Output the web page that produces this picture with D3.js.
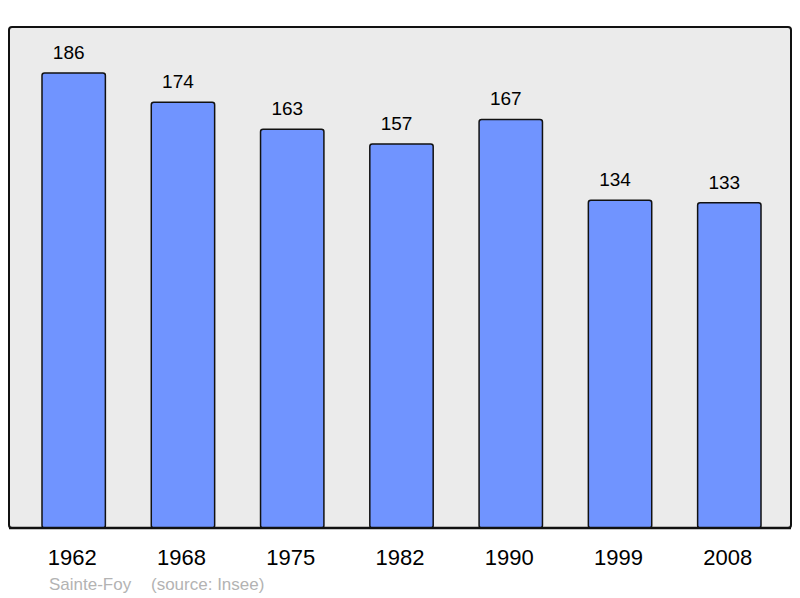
<!DOCTYPE html>
<html>
<head>
<meta charset="utf-8">
<script src="https://cdn.jsdelivr.net/npm/d3@7"></script>
<style>
body { margin: 0; background: #fff; }
text { font-family: "Liberation Sans", Arial, sans-serif; }
</style>
</head>
<body>
<div id="chart"></div>
<script>
// data
var years = ["1962", "1968", "1975", "1982", "1990", "1999", "2008"];
var population = [186, 174, 163, 157, 167, 134, 133];
var footnote = ["Sainte-Foy", "(source: Insee)"];

var width = 800, height = 598;

var svg = d3.select("#chart")
    .append("svg")
    .attr("width", width)
    .attr("height", height);

// background panel
svg.append("rect")
    .attr("x", 9)
    .attr("y", 27)
    .attr("width", 782)
    .attr("height", 501)
    .attr("rx", 3)
    .attr("fill", "#ebebeb")
    .attr("stroke", "#111")
    .attr("stroke-width", 2);

var x = d3.scaleBand()
    .domain(years)
    .range([42, 761])
    .paddingInner(0.42)
    .paddingOuter(0);

var y = d3.scaleLinear()
    .domain([0, 186])
    .range([528, 73]);

var rows = years.map(function(d, i) { return {year: d, value: population[i]}; });

// bars
svg.append("g")
    .selectAll("rect")
    .data(rows)
    .enter()
    .append("rect")
    .attr("x", function(d) { return x(d.year); })
    .attr("y", function(d) { return y(d.value); })
    .attr("width", x.bandwidth())
    .attr("height", function(d) { return y(0) - y(d.value); })
    .attr("rx", 2.5)
    .attr("fill", "#7094ff")
    .attr("stroke", "#111")
    .attr("stroke-width", 1.5);

// redraw bottom edge of panel over the bars
svg.append("line")
    .attr("x1", 9).attr("x2", 791)
    .attr("y1", 528).attr("y2", 528)
    .attr("stroke", "#111")
    .attr("stroke-width", 2.5);

// value labels
svg.append("g")
    .selectAll("text")
    .data(rows)
    .enter()
    .append("text")
    .attr("x", function(d) { return x(d.year) + x.bandwidth() / 2 - 5; })
    .attr("y", function(d) { return y(d.value) - 14; })
    .attr("text-anchor", "middle")
    .attr("fill", "#000")
    .style("font-size", "19px")
    .text(function(d) { return d.value; });

// year labels
svg.append("g")
    .selectAll("text")
    .data(rows)
    .enter()
    .append("text")
    .attr("x", function(d) { return x(d.year) + x.bandwidth() / 2 - 1.5; })
    .attr("y", 565)
    .attr("text-anchor", "middle")
    .attr("fill", "#000")
    .style("font-size", "22px")
    .text(function(d) { return d.year; });

// source line
svg.append("text")
    .attr("x", 49)
    .attr("y", 590)
    .attr("fill", "#b3b3b3")
    .style("font-size", "17px")
    .text(footnote[0]);
svg.append("text")
    .attr("x", 151)
    .attr("y", 590)
    .attr("fill", "#b3b3b3")
    .style("font-size", "17px")
    .text(footnote[1]);
</script>
</body>
</html>
